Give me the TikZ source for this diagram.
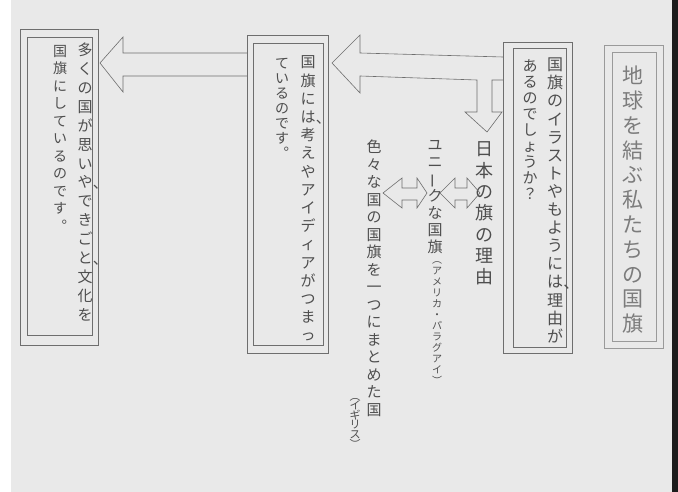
\documentclass[tikz,border=0pt]{standalone}
\usepackage{fontspec}
\usepackage{graphicx}
\usetikzlibrary{fit}
\newfontfamily\jp{Noto Sans CJK JP}
\definecolor{paper}{HTML}{E9E9E9}
\definecolor{pencil}{HTML}{4E4E4E}
\definecolor{titlepencil}{HTML}{7C7C7C}
\definecolor{lineink}{HTML}{6E6E6E}
\definecolor{titleink}{HTML}{9A9A9A}
\definecolor{edge}{HTML}{1C1C1C}
\makeatletter
\newcommand\vcol[3]{\vbox{\fontsize{#1pt}{#2pt}\selectfont\jp
  \baselineskip=#2pt\lineskiplimit=-100pt\lineskip=0pt
  \@tfor\vc@c:=#3\do{\hbox to #1pt{\hss\vc@c\hss}}}}
\makeatother
\newcommand\pc[1]{\rlap{\kern0.02em\raisebox{-0.05em}{#1}}}
\newcommand\cho{\rotatebox[origin=c]{90}{ー}}
\tikzset{
  col/.style={inner sep=0pt, outer sep=0pt, anchor=north, text=pencil},
  boxo/.style={draw=lineink, line width=0.7pt, inner sep=0pt, outer sep=0pt},
  tboxo/.style={draw=titleink, line width=0.7pt, inner sep=0pt, outer sep=0pt},
  hollow/.style={draw=lineink, line width=0.6pt, line join=miter},
}
\begin{document}
\begin{tikzpicture}[x=1pt, y=-1pt]
\useasboundingbox (0,0) rectangle (678,492);
\fill[paper] (0,0) rectangle (678,492);
\fill[white] (0,0) rectangle (11,492);
\fill[edge] (672,0) rectangle (678,492);

% title box
\node[tboxo, fit={(604,45)(663,348)}] (titleO) {};
\node[tboxo, fit={(612,52)(656,341)}] (titleI) {};
\node[col, text=titlepencil] (title) at (633,66) {\vcol{21}{24.8}{地球を結ぶ私たちの国旗}};

% question box
\node[boxo, fit={(503,42)(572,353)}] (qO) {};
\node[boxo, fit={(513,48)(566,347)}] (qI) {};
\node[col] (q1) at (555,58) {\vcol{16}{18.1}{国旗のイラストやもように{は\pc{、}}理由が}};
\node[col] (q2) at (530,60) {\vcol{15}{16}{あるのでしょうか？}};

% middle box
\node[boxo, fit={(247,35)(328,353)}] (mO) {};
\node[boxo, fit={(253,43)(323,345)}] (mI) {};
\node[col] (m1) at (308,56) {\vcol{15}{18.2}{国旗に{は\pc{、}}考えやアイディアがつまっ}};
\node[col] (m2) at (282,58) {\vcol{14}{15}{ているのです︒}};

% left box
\node[boxo, fit={(20,29)(98,345)}] (lO) {};
\node[boxo, fit={(27,37)(92,335)}] (lI) {};
\node[col] (l1) at (85,43) {\vcol{15}{18.9}{多くの国が思い{や\pc{、}}できご{と\pc{、}}文化を}};
\node[col] (l2) at (60,45) {\vcol{14}{17.5}{国旗にしているのです︒}};

% middle free text columns
\node[col] (c1) at (484,142) {\vcol{18}{21.3}{日本の旗の理由}};
\node[col] (c2) at (435,140) {\vcol{15}{17}{ユニ\cho クな国旗}};
\node[col] (c2b) at (437,262) {\vcol{10}{11}{︵アメリカ・パラグアイ︶}};
\node[col] (c3) at (374,140) {\vcol{15}{17.5}{色々な国の国旗を一つにまとめた国}};
\node[col] (c3b) at (355,398) {\vcol{11}{9.6}{︵イギリス︶}};

% arrow from question box to middle box, with branch down
\draw[hollow] (503,57) -- (360,53) -- (360,35) -- (332,63) -- (360,93) -- (360,76)
  -- (477,80) -- (477,112) -- (465,112) -- (487,132) -- (502,112) -- (492,112)
  -- (492,80) -- (503,80);
% arrow from middle box to left box
\draw[hollow] (247,53) -- (123,53) -- (123,37) -- (100,63) -- (123,92) -- (123,76) -- (247,76);

% double arrows
\draw[hollow] (383,193) -- (402,178) -- (402,188) -- (417,188) -- (417,178) -- (427,193)
  -- (417,208) -- (417,200) -- (402,200) -- (402,208) -- cycle;
\draw[hollow] (440,193) -- (455,178) -- (455,188) -- (467,188) -- (467,178) -- (480,193)
  -- (467,208) -- (467,200) -- (455,200) -- (455,208) -- cycle;
\end{tikzpicture}
\end{document}
